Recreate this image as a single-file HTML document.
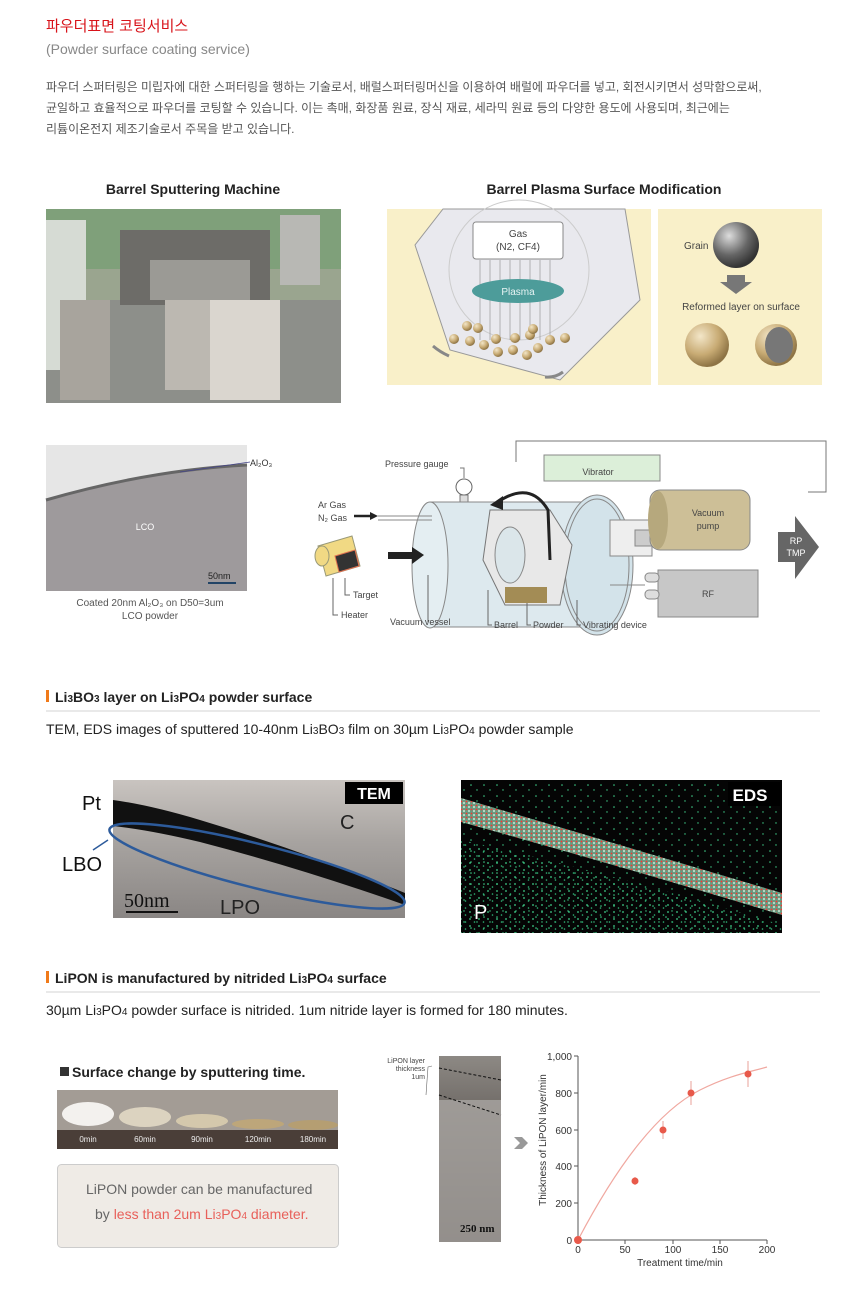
<!DOCTYPE html>
<html><head><meta charset="utf-8"><style>
body{margin:0;background:#fff;width:865px;height:1308px;overflow:hidden}
svg{display:block}
text{font-family:"Liberation Sans","Noto Sans CJK KR",sans-serif}
text.serif{font-family:"Liberation Serif",serif}
</style></head><body>
<svg width="865" height="1308" viewBox="0 0 865 1308" xmlns="http://www.w3.org/2000/svg">
<defs>
<pattern id="dots" width="9" height="7" patternUnits="userSpaceOnUse"><circle cx="2" cy="2" r="0.9" fill="#3fd08a"/><circle cx="6.5" cy="5" r="0.8" fill="#2fb878"/></pattern>
<pattern id="dots2" width="13" height="11" patternUnits="userSpaceOnUse"><circle cx="3" cy="4" r="0.8" fill="#3fd08a"/><circle cx="9" cy="9" r="0.7" fill="#3fd08a"/></pattern>
<pattern id="band" width="5" height="4" patternUnits="userSpaceOnUse"><rect width="5" height="4" fill="#6a9a80"/><circle cx="1.5" cy="1.5" r="0.9" fill="#ff3030"/><circle cx="4" cy="3" r="0.9" fill="#e8fff0"/></pattern>
<radialGradient id="gs" cx="0.35" cy="0.3" r="0.7"><stop offset="0" stop-color="#ddd"/><stop offset="0.6" stop-color="#666"/><stop offset="1" stop-color="#333"/></radialGradient>
<radialGradient id="gb" cx="0.35" cy="0.3" r="0.7"><stop offset="0" stop-color="#f3e6c8"/><stop offset="0.6" stop-color="#c8ab74"/><stop offset="1" stop-color="#8e7445"/></radialGradient>
<linearGradient id="tem1" x1="0" y1="0" x2="0" y2="1"><stop offset="0" stop-color="#c9c4c0"/><stop offset="0.45" stop-color="#a7a3a0"/><stop offset="1" stop-color="#8a8684"/></linearGradient>
<linearGradient id="strip" x1="0" y1="0" x2="0" y2="1"><stop offset="0" stop-color="#8d8984"/><stop offset="0.3" stop-color="#6f6a66"/><stop offset="1" stop-color="#2b2320"/></linearGradient>
</defs>

<!-- header -->
<text x="46" y="31" font-size="15" fill="#d8131a">파우더표면 코팅서비스</text>
<text x="46" y="54" font-size="14" fill="#888">(Powder surface coating service)</text>
<text x="46" y="91" font-size="12" fill="#555">파우더 스퍼터링은 미립자에 대한 스퍼터링을 행하는 기술로서, 배럴스퍼터링머신을 이용하여 배럴에 파우더를 넣고, 회전시키면서 성막함으로써,</text>
<text x="46" y="112" font-size="12" fill="#555">균일하고 효율적으로 파우더를 코팅할 수 있습니다. 이는 촉매, 화장품 원료, 장식 재료, 세라믹 원료 등의 다양한 용도에 사용되며, 최근에는</text>
<text x="46" y="133" font-size="12" fill="#555">리튬이온전지 제조기술로서 주목을 받고 있습니다.</text>

<text x="193" y="194" font-size="14" font-weight="bold" fill="#222" text-anchor="middle">Barrel Sputtering Machine</text>
<text x="604" y="194" font-size="14" font-weight="bold" fill="#222" text-anchor="middle">Barrel Plasma Surface Modification</text>

<!-- machine photo -->
<rect x="46" y="209" width="295" height="194" fill="#9aa58f"/>
<rect x="46" y="209" width="295" height="60" fill="#7fa07a"/>
<rect x="46" y="300" width="295" height="103" fill="#8d8f8a"/>
<rect x="46" y="220" width="40" height="150" fill="#d6dbd4"/>
<rect x="120" y="230" width="150" height="75" fill="#6d6c68"/>
<rect x="150" y="260" width="100" height="40" fill="#9b9a95"/>
<rect x="210" y="300" width="70" height="100" fill="#dad6cf"/>
<rect x="165" y="300" width="45" height="90" fill="#bcb8b1"/>
<rect x="280" y="215" width="40" height="70" fill="#b8b8b4"/>
<rect x="60" y="300" width="50" height="100" fill="#a8a49d"/>

<!-- plasma diagram -->
<rect x="387" y="209" width="264" height="176" fill="#f9f0c9"/>
<polygon points="443,209 625,209 640,300 560,380 450,350 415,245" fill="#e9e9ee" stroke="#999" stroke-width="1"/>
<circle cx="519" cy="270" r="70" fill="none" stroke="#ccc"/>
<rect x="473" y="222" width="90" height="37" rx="3" fill="#fff" stroke="#888"/>
<text x="518" y="237" font-size="10" fill="#444" text-anchor="middle">Gas</text>
<text x="518" y="250" font-size="10" fill="#444" text-anchor="middle">(N2, CF4)</text>
<g stroke="#999" stroke-width="0.7"><line x1="480" y1="260" x2="480" y2="340"/><line x1="490" y1="260" x2="490" y2="340"/><line x1="500" y1="260" x2="500" y2="340"/><line x1="510" y1="260" x2="510" y2="340"/><line x1="520" y1="260" x2="520" y2="340"/><line x1="530" y1="260" x2="530" y2="340"/><line x1="540" y1="260" x2="540" y2="340"/><line x1="550" y1="260" x2="550" y2="340"/></g>
<ellipse cx="518" cy="291" rx="46" ry="12" fill="#4d9c9a"/>
<text x="518" y="295" font-size="10" fill="#e8f4f4" text-anchor="middle">Plasma</text>
<g fill="url(#gb)"><circle cx="467" cy="326" r="5"/><circle cx="478" cy="328" r="5"/><circle cx="454" cy="339" r="5"/><circle cx="470" cy="341" r="5"/><circle cx="484" cy="345" r="5"/><circle cx="496" cy="339" r="5"/><circle cx="498" cy="352" r="5"/><circle cx="513" cy="350" r="5"/><circle cx="515" cy="338" r="5"/><circle cx="530" cy="335" r="5"/><circle cx="527" cy="355" r="5"/><circle cx="538" cy="348" r="5"/><circle cx="550" cy="340" r="5"/><circle cx="565" cy="338" r="5"/><circle cx="533" cy="329" r="5"/></g>
<path d="M449,356 Q440,352 433,346" stroke="#888" stroke-width="3" fill="none"/>
<path d="M563,372 Q555,378 545,377" stroke="#888" stroke-width="3" fill="none"/>
<rect x="658" y="209" width="164" height="176" fill="#f9f0c9"/>
<text x="684" y="249" font-size="10" fill="#444">Grain</text>
<circle cx="736" cy="245" r="23" fill="url(#gs)"/>
<polygon points="727,275 745,275 745,282 752,282 736,294 720,282 727,282" fill="#777"/>
<text x="741" y="310" font-size="10" fill="#444" text-anchor="middle">Reformed layer on surface</text>
<circle cx="707" cy="345" r="22" fill="url(#gb)"/>
<circle cx="776" cy="345" r="21" fill="url(#gb)"/>
<ellipse cx="779" cy="345" rx="14" ry="18" fill="#777"/>

<!-- TEM LCO -->
<rect x="46" y="445" width="201" height="146" fill="#9e9a9c"/>
<path d="M46,445 H247 V465 Q150,470 46,500 Z" fill="#e6e6e6"/>
<path d="M46,500 Q150,470 247,465" stroke="#666" stroke-width="3" fill="none"/>
<text x="250" y="466" font-size="9" fill="#333">Al₂O₃</text>
<line x1="180" y1="472" x2="250" y2="462" stroke="#448" stroke-width="0.7"/>
<text x="145" y="530" font-size="9" fill="#fff" text-anchor="middle">LCO</text>
<text x="208" y="579" font-size="9" fill="#222">50nm</text>
<line x1="208" y1="583" x2="236" y2="583" stroke="#246" stroke-width="2"/>
<text x="150" y="606" font-size="10" fill="#555" text-anchor="middle">Coated 20nm Al₂O₃ on D50=3um</text>
<text x="150" y="619" font-size="10" fill="#555" text-anchor="middle">LCO powder</text>

<!-- apparatus -->
<g font-size="9" fill="#444">
<polyline points="516,462 516,441 826,441 826,492 808,492" fill="none" stroke="#777"/>
<text x="385" y="467">Pressure gauge</text>
<polyline points="460,468 464,468 464,478" fill="none" stroke="#777"/>
<circle cx="464" cy="487" r="8" fill="#fff" stroke="#666"/>
<rect x="460" y="495" width="8" height="8" fill="#ddd" stroke="#777"/>
<rect x="430" y="502" width="180" height="125" fill="#dde9ee" stroke="#888"/>
<ellipse cx="430" cy="565" rx="18" ry="63" fill="#e4eef2" stroke="#888"/>
<ellipse cx="597" cy="565" rx="36" ry="70" fill="#d3e3ea" stroke="#888"/>
<ellipse cx="597" cy="565" rx="32" ry="66" fill="none" stroke="#888"/>
<rect x="610" y="520" width="42" height="36" fill="#eee" stroke="#888"/>
<rect x="635" y="530" width="25" height="16" fill="#ccc" stroke="#888"/>
<rect x="544" y="455" width="116" height="26" fill="#dcefd9" stroke="#888"/>
<text x="598" y="475" text-anchor="middle">Vibrator</text>
<rect x="650" y="490" width="100" height="60" rx="10" fill="#cdbf97" stroke="#888"/>
<ellipse cx="658" cy="520" rx="10" ry="29" fill="#b6a87d"/>
<text x="708" y="516" text-anchor="middle">Vacuum</text>
<text x="708" y="529" text-anchor="middle">pump</text>
<polygon points="778,532 795,532 795,516 819,547 795,579 795,562 778,562" fill="#666"/>
<text x="796" y="544" fill="#fff" text-anchor="middle">RP</text>
<text x="796" y="556" fill="#fff" text-anchor="middle">TMP</text>
<rect x="658" y="570" width="100" height="47" fill="#c7c7c7" stroke="#888"/>
<text x="708" y="597" text-anchor="middle">RF</text>
<rect x="645" y="573" width="14" height="9" rx="4" fill="#ddd" stroke="#888"/>
<rect x="645" y="590" width="14" height="9" rx="4" fill="#ddd" stroke="#888"/>
<line x1="610" y1="585" x2="645" y2="585" stroke="#888"/>
<polygon points="490,510 550,510 572,545 560,605 505,605 483,560" fill="#e8e8e8" stroke="#777"/>
<ellipse cx="510" cy="555" rx="15" ry="28" fill="#dbe6ea" stroke="#888"/>
<rect x="505" y="587" width="42" height="16" fill="#a38c55"/>
<path d="M498,502 Q530,480 548,510 L550,560" fill="none" stroke="#222" stroke-width="3"/>
<polygon points="490,505 503,496 503,510" fill="#222"/>
<text x="318" y="508">Ar Gas</text>
<text x="318" y="521">N₂ Gas</text>
<line x1="354" y1="516" x2="370" y2="516" stroke="#222" stroke-width="2.5"/>
<polygon points="370,512 378,516 370,520" fill="#222"/>
<line x1="378" y1="516" x2="432" y2="516" stroke="#888"/>
<line x1="378" y1="520" x2="432" y2="520" stroke="#888"/>
<polygon points="318,546 352,536 360,566 326,576" fill="#f1d984" stroke="#997"/>
<polygon points="335,556 355,550 359,566 339,572" fill="#333" stroke="#e07050"/>
<ellipse cx="322" cy="556" rx="7" ry="10" fill="#f1d984" stroke="#997"/>
<rect x="388" y="552" width="25" height="7" fill="#222"/>
<polygon points="412,547 424,555 412,564" fill="#222"/>
<polyline points="345,578 345,595 350,595" fill="none" stroke="#666"/>
<text x="353" y="598">Target</text>
<polyline points="333,578 333,615 338,615" fill="none" stroke="#666"/>
<text x="341" y="618">Heater</text>
<polyline points="428,575 428,622" fill="none" stroke="#666"/>
<text x="390" y="625">Vacuum vessel</text>
<polyline points="488,590 488,625 492,625" fill="none" stroke="#666"/>
<text x="494" y="628">Barrel</text>
<polyline points="527,603 527,625 531,625" fill="none" stroke="#666"/>
<text x="533" y="628">Powder</text>
<polyline points="577,600 577,625 581,625" fill="none" stroke="#666"/>
<text x="583" y="628">Vibrating device</text>
</g>

<!-- section 1 -->
<rect x="46" y="690" width="3" height="12" fill="#f07a1a"/>
<text x="55" y="702" font-size="14" font-weight="bold" fill="#222">Li<tspan font-size="10">3</tspan>BO<tspan font-size="10">3</tspan> layer on Li<tspan font-size="10">3</tspan>PO<tspan font-size="10">4</tspan> powder surface</text>
<line x1="46" y1="711" x2="820" y2="711" stroke="#e2e2e2" stroke-width="1.5"/>
<text x="46" y="734" font-size="14" fill="#222">TEM, EDS images of sputtered 10-40nm Li<tspan font-size="10">3</tspan>BO<tspan font-size="10">3</tspan> film on 30µm Li<tspan font-size="10">3</tspan>PO<tspan font-size="10">4</tspan> powder sample</text>

<rect x="113" y="780" width="292" height="138" fill="url(#tem1)"/>
<path d="M113,800 Q150,805 200,820 Q300,850 405,893 L405,905 Q300,868 200,842 Q150,830 113,826 Z" fill="#111"/>
<rect x="345" y="782" width="58" height="22" fill="#000"/>
<text x="374" y="799" font-size="16" font-weight="bold" fill="#fff" text-anchor="middle">TEM</text>
<text x="340" y="829" font-size="20" fill="#222">C</text>
<text x="82" y="810" font-size="20" fill="#111">Pt</text>
<text x="62" y="871" font-size="20" fill="#111">LBO</text>
<ellipse cx="257" cy="866" rx="152" ry="22" transform="rotate(14 257 866)" fill="none" stroke="#2d5b9b" stroke-width="2.5"/>
<line x1="108" y1="840" x2="93" y2="850" stroke="#2d5b9b" stroke-width="1.5"/>
<text x="124" y="907" font-size="20" class="serif" fill="#111">50nm</text>
<line x1="126" y1="912" x2="178" y2="912" stroke="#111" stroke-width="2"/>
<text x="220" y="914" font-size="20" fill="#222">LPO</text>

<rect x="461" y="780" width="321" height="153" fill="#050505"/>
<rect x="461" y="780" width="321" height="153" fill="url(#dots2)"/>
<path d="M461,840 Q600,870 782,925 V933 H461 Z" fill="url(#dots)"/>
<path d="M461,798 Q620,845 782,893 L782,915 Q620,866 461,822 Z" fill="url(#band)"/>
<rect x="728" y="782" width="52" height="24" fill="#000"/>
<text x="750" y="801" font-size="17" font-weight="bold" fill="#fff" text-anchor="middle">EDS</text>
<text x="474" y="919" font-size="20" fill="#fff">P</text>

<!-- section 2 -->
<rect x="46" y="971" width="3" height="12" fill="#f07a1a"/>
<text x="55" y="983" font-size="14" font-weight="bold" fill="#222">LiPON is manufactured by nitrided Li<tspan font-size="10">3</tspan>PO<tspan font-size="10">4</tspan> surface</text>
<line x1="46" y1="992" x2="820" y2="992" stroke="#e2e2e2" stroke-width="1.5"/>
<text x="46" y="1015" font-size="14" fill="#222">30µm Li<tspan font-size="10">3</tspan>PO<tspan font-size="10">4</tspan> powder surface is nitrided. 1um nitride layer is formed for 180 minutes.</text>

<rect x="60" y="1067" width="9" height="9" fill="#333"/>
<text x="72" y="1077" font-size="14" font-weight="bold" fill="#222">Surface change by sputtering time.</text>
<rect x="57" y="1090" width="281" height="59" fill="#4a3e38"/>
<rect x="57" y="1090" width="281" height="40" fill="#a39c95"/>
<ellipse cx="88" cy="1114" rx="26" ry="12" fill="#f3f1ee"/>
<ellipse cx="145" cy="1117" rx="26" ry="10" fill="#dcd3c0"/>
<ellipse cx="202" cy="1121" rx="26" ry="7" fill="#d4c8ac"/>
<ellipse cx="258" cy="1124" rx="26" ry="5" fill="#bda67a"/>
<ellipse cx="313" cy="1125" rx="25" ry="5" fill="#b59e72"/>
<g font-size="8" fill="#eee" text-anchor="middle"><text x="88" y="1142">0min</text><text x="145" y="1142">60min</text><text x="202" y="1142">90min</text><text x="258" y="1142">120min</text><text x="313" y="1142">180min</text></g>
<rect x="57.5" y="1164.5" width="281" height="83" rx="4" fill="#efebe6" stroke="#ccc"/>
<text x="86" y="1194" font-size="14" fill="#666">LiPON powder can be manufactured</text>
<text x="95" y="1219" font-size="14" fill="#666">by <tspan fill="#e8605a">less than 2um Li<tspan font-size="10">3</tspan>PO<tspan font-size="10">4</tspan> diameter.</tspan></text>

<!-- TEM strip -->
<g font-size="7" fill="#444" text-anchor="end"><text x="425" y="1063">LiPON layer</text><text x="425" y="1071">thickness</text><text x="425" y="1079">1um</text></g>
<polyline points="432,1066 428,1067 426,1095" fill="none" stroke="#666" stroke-width="0.6"/>
<rect x="439" y="1056" width="62" height="186" fill="url(#strip)"/>
<rect x="439" y="1100" width="62" height="142" fill="#a6a29f" opacity="0.85"/>
<line x1="439" y1="1068" x2="501" y2="1080" stroke="#111" stroke-dasharray="3,2"/>
<line x1="439" y1="1095" x2="501" y2="1115" stroke="#111" stroke-dasharray="3,2"/>
<text x="460" y="1232" font-size="11" font-weight="bold" class="serif" fill="#111">250 nm</text>
<polygon points="514,1137 522,1137 528,1143 522,1149 514,1149 520,1143" fill="#999"/>

<!-- chart -->
<g font-size="10" fill="#333">
<polyline points="578,1056 578,1240 767,1240" fill="none" stroke="#555"/>
<g stroke="#555"><line x1="578" y1="1240" x2="578" y2="1244"/><line x1="625" y1="1240" x2="625" y2="1244"/><line x1="673" y1="1240" x2="673" y2="1244"/><line x1="720" y1="1240" x2="720" y2="1244"/><line x1="767" y1="1240" x2="767" y2="1244"/>
<line x1="574" y1="1056" x2="578" y2="1056"/><line x1="574" y1="1093" x2="578" y2="1093"/><line x1="574" y1="1130" x2="578" y2="1130"/><line x1="574" y1="1166" x2="578" y2="1166"/><line x1="574" y1="1203" x2="578" y2="1203"/></g>
<g text-anchor="end"><text x="572" y="1060">1,000</text><text x="572" y="1097">800</text><text x="572" y="1134">600</text><text x="572" y="1170">400</text><text x="572" y="1207">200</text><text x="572" y="1244">0</text></g>
<g text-anchor="middle"><text x="578" y="1253">0</text><text x="625" y="1253">50</text><text x="673" y="1253">100</text><text x="720" y="1253">150</text><text x="767" y="1253">200</text></g>
<text x="680" y="1266" text-anchor="middle">Treatment time/min</text>
<text transform="translate(546 1140) rotate(-90)" text-anchor="middle">Thickness of LiPON layer/min</text>
</g>
<path d="M578,1240 C620,1160 660,1110 700,1090 C730,1075 750,1072 767,1067" fill="none" stroke="#f0a8a0" stroke-width="1.2"/>
<g stroke="#e58a80" stroke-width="0.8"><line x1="635" y1="1177" x2="635" y2="1185"/><line x1="663" y1="1121" x2="663" y2="1139"/><line x1="691" y1="1081" x2="691" y2="1105"/><line x1="748" y1="1061" x2="748" y2="1087"/></g>
<g fill="#e8594a"><circle cx="578" cy="1240" r="4"/><circle cx="635" cy="1181" r="3.5"/><circle cx="663" cy="1130" r="3.5"/><circle cx="691" cy="1093" r="3.5"/><circle cx="748" cy="1074" r="3.5"/></g>
</svg>
</body></html>
